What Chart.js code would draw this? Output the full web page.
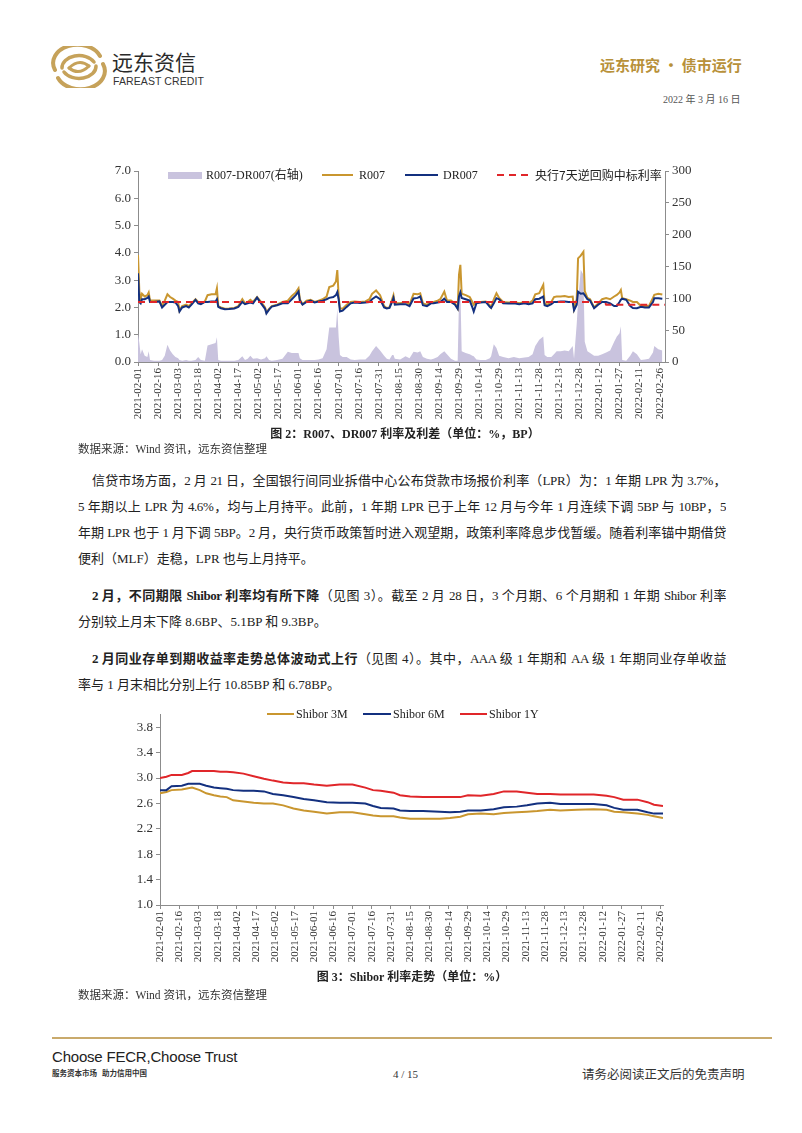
<!DOCTYPE html>
<html><head><meta charset="utf-8">
<script src="https://cdn.jsdelivr.net/npm/chart.js@4.4.1/dist/chart.umd.min.js"></script>
<style>
html,body{margin:0;padding:0;background:#fff;}
body{width:802px;height:1133px;position:relative;overflow:hidden;font-family:"Liberation Serif","Noto Sans CJK SC",serif;color:#222;}
.abs{position:absolute;white-space:nowrap;}
.ln{position:absolute;font-size:13px;line-height:20px;height:20px;white-space:nowrap;}
.just{text-align:justify;text-align-last:justify;white-space:normal;overflow:hidden;letter-spacing:-0.4px;}
.cap{position:absolute;font-size:12px;font-weight:bold;text-align:center;white-space:nowrap;line-height:16px;}
.src{position:absolute;left:78px;font-size:11.5px;line-height:16px;white-space:nowrap;color:#333;}
.lg{position:absolute;font-size:12px;line-height:14px;white-space:nowrap;color:#222;}
.box{position:absolute;}
</style></head>
<body>
<!-- header -->
<svg class="box" style="left:50px;top:46px" width="58" height="42" viewBox="0 0 58 42">
  <g fill="none" stroke="#C6A25A" stroke-linecap="round">
    <path d="M5 24 A24 18 0 0 1 50 10" stroke-width="4"/>
    <path d="M53 18 A24 18 0 0 1 8 32" stroke-width="4"/>
    <path d="M12 22 A17 12 0 0 1 44 16" stroke-width="3.5"/>
    <path d="M46 20 A17 12 0 0 1 14 26" stroke-width="3.5"/>
    <path d="M19 22 Q29 12 39 20" stroke-width="3"/>
    <path d="M19 22 Q29 30 39 20" stroke-width="3"/>
  </g>
</svg>
<div class="abs" style="left:112px;top:47px;font-family:'Noto Sans CJK SC';font-size:21px;line-height:28px;color:#2a2a2a;">远东资信</div>
<div class="abs" style="left:113px;top:75px;font-family:'Liberation Sans';font-size:10.5px;line-height:12px;color:#333;letter-spacing:0.1px;">FAREAST CREDIT</div>
<div class="abs" style="left:600px;top:55px;font-family:'Noto Sans CJK SC';font-size:15px;line-height:20px;color:#B8913A;font-weight:bold;">远东研究 • 债市运行</div>
<div class="abs" style="left:663px;top:93px;font-size:10px;line-height:14px;color:#555;">2022 年 3 月 16 日</div>

<!-- chart 1 -->
<div class="box" style="left:90px;top:160px;width:620px;height:275px;"><canvas id="c1" width="620" height="275"></canvas></div>
<div class="box" style="left:168px;top:172px;width:34px;height:7px;background:#C9C3DE;"></div>
<div class="lg" style="left:206px;top:168px;">R007-DR007(右轴)</div>
<div class="box" style="left:322px;top:174px;width:31px;height:2px;background:#C9962F;"></div>
<div class="lg" style="left:359px;top:168px;">R007</div>
<div class="box" style="left:405px;top:174px;width:33px;height:2px;background:#13307F;"></div>
<div class="lg" style="left:443px;top:168px;">DR007</div>
<svg class="box" style="left:497px;top:170px" width="36" height="10"><line x1="0" y1="5" x2="36" y2="5" stroke="#E0262A" stroke-width="2" stroke-dasharray="7,5"/></svg>
<div class="lg" style="left:535px;top:167px;font-family:'Noto Sans CJK SC';font-size:12px;line-height:16px;">央行7天逆回购中标利率</div>
<div class="cap" style="left:205px;top:426px;width:400px;">图 2：R007、DR007 利率及利差（单位：%，BP）</div>
<div class="src" style="top:441px;">数据来源：Wind 资讯，远东资信整理</div>

<!-- text -->
<div class="ln just" style="left:92px;top:471px;width:634px;">信贷市场方面，2 月 21 日，全国银行间同业拆借中心公布贷款市场报价利率（LPR）为：1 年期 LPR 为 3.7%，</div>
<div class="ln just" style="left:78px;top:497px;width:648px;">5 年期以上 LPR 为 4.6%，均与上月持平。此前，1 年期 LPR 已于上年 12 月与今年 1 月连续下调 5BP 与 10BP，5</div>
<div class="ln just" style="left:78px;top:523px;width:648px;">年期 LPR 也于 1 月下调 5BP。2 月，央行货币政策暂时进入观望期，政策利率降息步伐暂缓。随着利率锚中期借贷</div>
<div class="ln" style="left:78px;top:549px;">便利（MLF）走稳，LPR 也与上月持平。</div>
<div class="ln just" style="left:92px;top:586px;width:634px;"><b>2 月，不同期限 Shibor 利率均有所下降</b>（见图 3）。截至 2 月 28 日，3 个月期、6 个月期和 1 年期 Shibor 利率</div>
<div class="ln" style="left:78px;top:612px;">分别较上月末下降 8.6BP、5.1BP 和 9.3BP。</div>
<div class="ln just" style="left:92px;top:649px;width:634px;"><b>2 月同业存单到期收益率走势总体波动式上行</b>（见图 4）。其中，AAA 级 1 年期和 AA 级 1 年期同业存单收益</div>
<div class="ln" style="left:78px;top:675px;">率与 1 月末相比分别上行 10.85BP 和 6.78BP。</div>

<!-- chart 2 -->
<div class="box" style="left:100px;top:700px;width:600px;height:270px;"><canvas id="c2" width="600" height="270"></canvas></div>
<div class="box" style="left:267px;top:713px;width:27px;height:2px;background:#C9962F;"></div>
<div class="lg" style="left:296px;top:707px;">Shibor 3M</div>
<div class="box" style="left:363px;top:713px;width:28px;height:2px;background:#13307F;"></div>
<div class="lg" style="left:393px;top:707px;">Shibor 6M</div>
<div class="box" style="left:460px;top:713px;width:27px;height:2px;background:#E0262A;"></div>
<div class="lg" style="left:489px;top:707px;">Shibor 1Y</div>
<div class="cap" style="left:212px;top:969px;width:400px;">图 3：Shibor 利率走势（单位：%）</div>
<div class="src" style="top:987px;">数据来源：Wind 资讯，远东资信整理</div>

<!-- footer -->
<div class="box" style="left:52px;top:1037px;width:720px;height:2px;background:#C9AA6C;"></div>
<div class="abs" style="left:52px;top:1048px;font-family:'Liberation Sans';font-size:15px;line-height:18px;color:#222;letter-spacing:-0.2px;">Choose FECR,Choose Trust</div>
<div class="abs" style="left:52px;top:1068px;font-family:'Noto Sans CJK SC';font-size:7.5px;line-height:10px;color:#333;font-weight:bold;">服务资本市场&nbsp;&nbsp;&nbsp;助力信用中国</div>
<div class="abs" style="left:393px;top:1067px;font-size:11px;line-height:14px;color:#333;">4 / 15</div>
<div class="abs" style="left:582px;top:1066px;font-family:'Noto Sans CJK SC';font-size:12.5px;line-height:16px;color:#333;">请务必阅读正文后的免责声明</div>

<script>
// ---------- tick labels (shared) ----------
const tickLabels = ['2021-02-01','2021-02-16','2021-03-03','2021-03-18','2021-04-02','2021-04-17','2021-05-02','2021-05-17','2021-06-01','2021-06-16','2021-07-01','2021-07-16','2021-07-31','2021-08-15','2021-08-30','2021-09-14','2021-09-29','2021-10-14','2021-10-29','2021-11-13','2021-11-28','2021-12-13','2021-12-28','2022-01-12','2022-01-27','2022-02-11','2022-02-26'];
const rateTicks1 = [0,1,2,3,4,5,6,7];
const bpTicks1 = [0,50,100,150,200,250,300];
const rateTicks2 = [1.0,1.4,1.8,2.2,2.6,3.0,3.4,3.8];

// ---------- chart 1 data (x = days since 2021-02-01) ----------
const days1 = [0,1,2,3,5,7,8,9,12,16,18,20,22,24,26,28,30,31,33,36,38,40,43,45,47,50,52,55,58,59,60,62,65,68,72,75,78,80,82,84,86,89,92,95,96,98,100,104,108,112,115,118,120,121,123,126,129,132,135,138,141,143,146,148,149,150,151,153,156,159,162,166,170,173,175,178,181,184,186,188,190,191,192,196,200,203,206,209,211,213,216,219,221,224,226,229,231,234,237,239,240,241,242,245,248,250,251,253,256,260,263,264,266,268,270,273,277,281,285,289,292,295,297,300,303,304,306,309,311,313,316,319,322,325,326,328,329,331,333,334,336,338,341,344,347,350,353,356,358,360,361,362,365,368,370,373,376,379,382,385,386,389,392];
const r007 = [3.92,2.60,2.30,2.50,2.40,2.45,2.55,2.25,2.25,2.25,2.05,2.25,2.48,2.38,2.32,2.25,2.20,1.88,2.05,2.10,2.05,2.15,2.30,2.20,2.15,2.22,2.45,2.48,2.48,2.70,2.05,2.00,1.95,1.96,1.98,2.05,2.30,2.15,2.20,2.28,2.20,2.38,2.20,2.00,1.82,1.95,2.05,2.10,2.20,2.25,2.42,2.55,2.70,2.30,2.12,2.25,2.28,2.20,2.25,2.30,2.40,2.75,2.80,2.95,3.37,2.40,1.97,1.95,2.10,2.20,2.22,2.20,2.22,2.30,2.50,2.62,2.45,2.05,1.98,2.00,2.30,2.45,2.15,2.15,2.20,2.10,2.50,2.48,2.52,2.15,2.10,2.18,2.20,2.25,2.30,2.58,2.25,2.25,2.15,1.97,3.20,3.56,2.50,2.45,2.38,2.20,2.10,2.20,2.20,2.22,2.08,2.00,2.30,2.52,2.35,2.20,2.18,2.20,2.15,2.20,2.15,2.25,2.48,2.52,2.83,2.15,2.10,2.20,2.38,2.40,2.40,2.42,2.38,2.40,1.95,2.30,3.80,3.90,4.04,2.60,2.35,2.30,2.00,2.15,2.30,2.34,2.30,2.40,2.46,2.55,2.64,2.34,2.30,2.25,2.20,2.20,2.05,2.05,2.05,2.35,2.46,2.50,2.47];
const dr007 = [3.25,2.20,2.15,2.30,2.30,2.35,2.40,2.20,2.20,2.22,2.00,2.10,2.20,2.20,2.20,2.18,2.05,1.85,2.00,2.05,2.00,2.10,2.28,2.15,2.12,2.20,2.20,2.22,2.22,2.30,2.02,1.97,1.93,1.94,1.96,2.02,2.20,2.12,2.15,2.18,2.15,2.36,2.15,1.95,1.78,1.92,2.03,2.08,2.15,2.15,2.30,2.45,2.58,2.25,2.10,2.20,2.25,2.18,2.22,2.25,2.30,2.35,2.38,2.45,2.56,2.30,1.85,1.88,2.02,2.15,2.18,2.16,2.18,2.20,2.30,2.40,2.30,2.00,1.96,1.98,2.20,2.35,2.10,2.12,2.12,2.05,2.33,2.35,2.40,2.08,2.05,2.15,2.15,2.18,2.20,2.32,2.20,2.20,2.10,1.95,2.40,2.55,2.35,2.30,2.25,2.00,1.85,2.15,2.18,2.20,2.02,1.98,2.15,2.34,2.30,2.15,2.14,2.15,2.12,2.15,2.12,2.15,2.30,2.32,2.40,2.08,2.05,2.12,2.20,2.20,2.22,2.22,2.20,2.20,1.90,2.10,2.58,2.50,2.52,2.45,2.30,2.25,1.97,2.10,2.20,2.20,2.15,2.05,2.05,2.20,2.28,2.32,2.28,2.05,1.98,1.97,2.02,2.00,2.00,2.20,2.34,2.34,2.32];
const spreadBP = [45,30,12,20,10,8,17,3,2,2,3,10,27,18,12,8,6,3,2,3,2,2,3,8,3,2,26,28,30,39,3,2,2,2,2,3,9,3,5,10,5,6,4,6,9,3,2,3,5,16,14,14,14,6,3,3,3,3,4,6,20,54,54,54,84,40,11,8,8,4,3,4,4,10,17,25,18,10,5,4,11,11,5,4,9,6,16,15,17,8,5,4,5,8,12,17,12,5,2,2,100,116,17,14,12,10,9,4,3,3,6,9,28,22,10,8,6,8,6,7,8,12,25,35,40,11,8,8,12,17,17,18,17,25,5,60,95,145,137,32,17,14,10,10,12,15,18,32,40,45,56,3,2,10,17,12,3,4,5,15,25,20,18];
const policyDays = [0,349,350,394];
const policyRate = [2.2,2.2,2.1,2.1];

// ---------- chart 2 data ----------
const days2 = [0,5,9,17,22,25,31,36,42,47,52,57,65,73,81,88,96,104,112,120,130,140,150,160,166,172,182,187,195,205,218,226,234,240,250,260,268,278,286,294,304,312,325,338,348,354,361,372,380,385,392];
const shibor3M = [2.76,2.78,2.81,2.82,2.84,2.85,2.81,2.76,2.73,2.71,2.70,2.65,2.63,2.61,2.60,2.60,2.57,2.52,2.49,2.47,2.44,2.46,2.46,2.43,2.41,2.40,2.40,2.38,2.36,2.36,2.36,2.37,2.39,2.43,2.44,2.43,2.45,2.46,2.47,2.48,2.50,2.49,2.50,2.51,2.50,2.47,2.46,2.44,2.42,2.40,2.37];
const shibor6M = [2.81,2.81,2.87,2.88,2.91,2.91,2.91,2.88,2.85,2.84,2.83,2.81,2.80,2.80,2.79,2.75,2.73,2.70,2.67,2.65,2.62,2.61,2.61,2.60,2.56,2.53,2.52,2.49,2.48,2.48,2.47,2.46,2.47,2.49,2.49,2.51,2.54,2.55,2.57,2.60,2.61,2.59,2.59,2.59,2.57,2.53,2.50,2.50,2.46,2.44,2.44];
const shibor1Y = [3.00,3.02,3.05,3.05,3.08,3.11,3.11,3.11,3.11,3.10,3.10,3.09,3.07,3.03,2.99,2.96,2.93,2.92,2.92,2.90,2.88,2.90,2.90,2.85,2.81,2.80,2.77,2.73,2.71,2.70,2.70,2.70,2.70,2.73,2.72,2.75,2.79,2.79,2.77,2.75,2.75,2.74,2.74,2.74,2.72,2.70,2.66,2.66,2.62,2.58,2.56];

// ---------- helpers ----------
const GOLD = '#C9962F', NAVY = '#13307F', RED = '#E0262A', LAV = '#C9C3DE', AX = '#8c8c8c';
const t0 = Date.parse(tickLabels[0]);
const tickDays = tickLabels.map(s => Math.round((Date.parse(s) - t0) / 86400000));
const pts = (xs, ys) => xs.map((x, i) => ({x: x, y: ys[i]}));
const serif = 'Liberation Serif';

function xAxis(max, h) {
  return {
    type: 'linear', min: 0, max: max,
    afterBuildTicks: s => { s.ticks = tickDays.map(v => ({value: v})); },
    afterFit: s => { s.height = h; },
    ticks: {autoSkip: false, minRotation: 90, maxRotation: 90, padding: 2, color: '#333',
            font: {family: serif, size: 11}, callback: (v, i) => tickLabels[i]},
    grid: {drawOnChartArea: false, drawTicks: true, tickLength: 4, color: AX},
    border: {display: true, color: AX}
  };
}
function yAxis(pos, min, max, tickVals, w, fmt) {
  return {
    type: 'linear', position: pos, min: min, max: max,
    afterBuildTicks: s => { s.ticks = tickVals.map(v => ({value: v})); },
    afterFit: s => { s.width = w; },
    ticks: {autoSkip: false, padding: 3, color: '#333', font: {family: serif, size: 13}, callback: fmt},
    grid: {drawOnChartArea: false, drawTicks: true, tickLength: 4, color: AX},
    border: {display: true, color: AX}
  };
}
const common = {
  responsive: false, animation: false, devicePixelRatio: 1,
  plugins: {legend: {display: false}, tooltip: {enabled: false}},
  elements: {point: {radius: 0}, line: {tension: 0}}
};

// ---------- chart 1 ----------
new Chart(document.getElementById('c1'), {
  type: 'line',
  data: {datasets: [
    {label: 'R007-DR007(右轴)', data: pts(days1, spreadBP), yAxisID: 'y1', fill: 'origin',
     backgroundColor: LAV, borderWidth: 0, borderColor: LAV, order: 4},
    {label: 'R007', data: pts(days1, r007), yAxisID: 'y', borderColor: GOLD, borderWidth: 2, fill: false, order: 3},
    {label: 'DR007', data: pts(days1, dr007), yAxisID: 'y', borderColor: NAVY, borderWidth: 2, fill: false, order: 2},
    {label: '央行7天逆回购中标利率', data: pts(policyDays, policyRate), yAxisID: 'y', borderColor: RED,
     borderWidth: 2, borderDash: [7, 5], fill: false, order: 1}
  ]},
  options: Object.assign({}, common, {
    layout: {padding: {top: 11, left: 0, right: 0, bottom: 0}},
    scales: {
      x: xAxis(394, 73),
      y: yAxis('left', 0, 7, rateTicks1, 48, v => v.toFixed(1)),
      y1: yAxis('right', 0, 300, bpTicks1, 45, v => String(v))
    }
  })
});

// ---------- chart 2 ----------
new Chart(document.getElementById('c2'), {
  type: 'line',
  data: {datasets: [
    {label: 'Shibor 3M', data: pts(days2, shibor3M), borderColor: GOLD, borderWidth: 2, fill: false, order: 3},
    {label: 'Shibor 6M', data: pts(days2, shibor6M), borderColor: NAVY, borderWidth: 2, fill: false, order: 2},
    {label: 'Shibor 1Y', data: pts(days2, shibor1Y), borderColor: RED, borderWidth: 2, fill: false, order: 1}
  ]},
  options: Object.assign({}, common, {
    layout: {padding: {top: 14.6, left: 0, right: 37, bottom: 0}},
    scales: {
      x: xAxis(392, 65),
      y: yAxis('left', 1.0, 4.0, rateTicks2, 60, v => v.toFixed(1))
    }
  })
});
</script>
</body></html>
